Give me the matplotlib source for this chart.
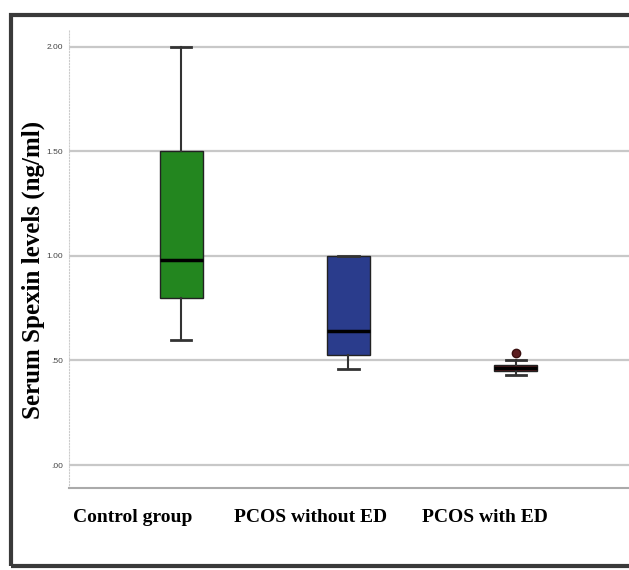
import matplotlib
matplotlib.use("Agg")
import matplotlib.pyplot as plt
from matplotlib.patches import Rectangle
from matplotlib.transforms import blended_transform_factory

categories = ["Control group", "PCOS without ED", "PCOS with ED"]
whisker_low = [0.60, 0.46, 0.43]
q1 = [0.80, 0.525, 0.45]
median = [0.98, 0.64, 0.465]
q3 = [1.50, 1.00, 0.48]
whisker_high = [2.00, 1.00, 0.50]
outliers = [[], [], [0.535]]
ytick_vals = [0.0, 0.5, 1.0, 1.5, 2.0]
ytick_labels = [".00", ".50", "1.00", "1.50", "2.00"]
colors = ["#23861f", "#2a3c8c", "#5c1e20"]

fig = plt.figure(figsize=(6.29, 5.70), dpi=100)
fig.patch.set_facecolor("white")

# outer frame
fig.patches.append(Rectangle((11/629, 1 - 566/570), 1.1, (566 - 15)/570,
                             transform=fig.transFigure, fill=False,
                             edgecolor="#3a3a3a", linewidth=3.0))

ax = fig.add_axes([69/629, 1 - 488/570, 1 - 69/629, (488 - 30)/570])
positions = [1, 2, 3]
stats = []
for i in range(3):
    stats.append(dict(whislo=whisker_low[i], q1=q1[i], med=median[i], q3=q3[i],
                      whishi=whisker_high[i], fliers=outliers[i]))
bp = ax.bxp(stats, positions=positions, widths=0.257, patch_artist=True,
            showfliers=True,
            boxprops=dict(linewidth=1.0, edgecolor="#222222"),
            medianprops=dict(color="black", linewidth=2.5),
            whiskerprops=dict(color="#333333", linewidth=1.5),
            capprops=dict(color="#333333", linewidth=2.0),
            capwidths=0.12,
            flierprops=dict(marker="o", markersize=6, markerfacecolor="#5c1e20",
                            markeredgecolor="#3a1010"))
for patch, c in zip(bp["boxes"], colors):
    patch.set_facecolor(c)

ax.set_xlim(0.331, 3.675)
ax.set_ylim(-0.110, 2.081)
ax.set_yticks(ytick_vals)
ax.set_yticklabels(ytick_labels, fontsize=6, color="#444444", family="Liberation Sans")
ax.tick_params(axis="y", length=0, pad=4)
ax.set_xticks([])
for y in ytick_vals:
    ax.axhline(y, color="#c8c8c8", linewidth=1.6, zorder=0)
for s in ["top", "right"]:
    ax.spines[s].set_visible(False)
ax.spines["left"].set_color("#cccccc")
ax.spines["left"].set_linestyle(":")
ax.spines["bottom"].set_color("#aaaaaa")
ax.spines["bottom"].set_linewidth(1.5)

label_pos = [0.71, 1.773, 2.815]
trans = blended_transform_factory(ax.transData, fig.transFigure)
for xp, lab in zip(label_pos, categories):
    ax.text(xp, 1 - 517/570, lab, transform=trans, ha="center", va="center",
            fontsize=14, fontweight="bold", family="Liberation Serif",
            clip_on=False)

fig.text(33/629, 1 - 270/570, "Serum Spexin levels (ng/ml)", rotation=90,
         ha="center", va="center", fontsize=18, fontweight="bold",
         family="Liberation Serif")

fig.savefig("out.png", dpi=100)
